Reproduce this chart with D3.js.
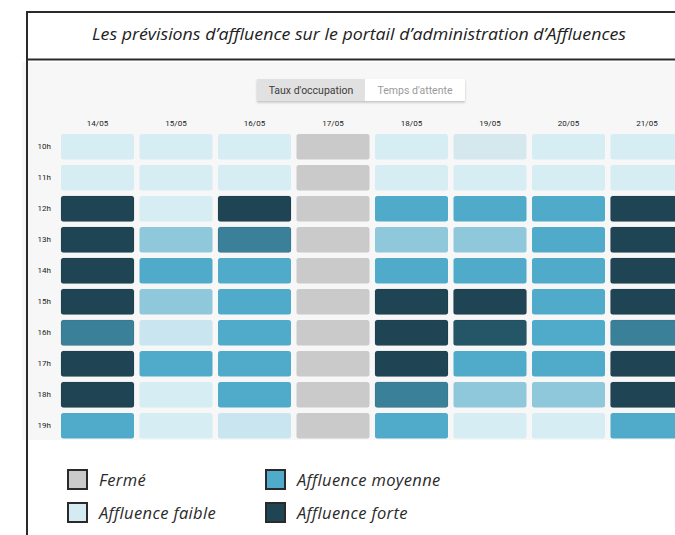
<!DOCTYPE html>
<html>
<head>
<meta charset="utf-8">
<script src="https://cdn.jsdelivr.net/npm/d3@7"></script>
<style>
  html, body { margin: 0; padding: 0; background: #ffffff; }
  svg { display: block; }
</style>
</head>
<body>
<svg id="chart" width="675" height="535"></svg>
<script>
// Forecast occupancy (%) per day and hour; null = closed
const days = ["14/05", "15/05", "16/05", "17/05", "18/05", "19/05", "20/05", "21/05"];
const hours = ["10h", "11h", "12h", "13h", "14h", "15h", "16h", "17h", "18h", "19h"];

const occ1405 = [15, 15, 90, 90, 90, 90, 70, 90, 90, 55];
const occ1505 = [15, 15, 15, 40, 55, 40, 25, 55, 15, 15];
const occ1605 = [15, 15, 90, 70, 55, 55, 55, 55, 55, 25];
const occ1705 = [null, null, null, null, null, null, null, null, null, null];
const occ1805 = [15, 15, 55, 40, 55, 90, 90, 90, 70, 55];
const occ1905 = [10, 15, 55, 40, 55, 90, 80, 55, 40, 15];
const occ2005 = [15, 15, 55, 55, 55, 55, 55, 55, 40, 15];
const occ2105 = [15, 15, 90, 90, 90, 90, 70, 90, 90, 55];
const occupancy = [occ1405, occ1505, occ1605, occ1705, occ1805, occ1905, occ2005, occ2105];

const legendLabels = ["Fermé", "Affluence faible", "Affluence moyenne", "Affluence forte"];
const legendColors = ["#cacaca", "#d4ebf2", "#4fabc9", "#1f4454"];

const title = "Les prévisions d’affluence sur le portail d’administration d’Affluences";
const tabs = ["Taux d'occupation", "Temps d'attente"];

const CLOSED = "#cacaca";
const color = d3.scaleThreshold()
  .domain([12, 20, 30, 48, 65, 75, 85])
  .range(["#d5e8ee", "#d6edf3", "#c9e5ef", "#8fc7db", "#4fabc9", "#3a8099", "#245667", "#1f4454"]);

const svg = d3.select("#chart");

// Panel background
svg.append("rect").attr("x", 22).attr("y", 62).attr("width", 660).attr("height", 378).attr("fill", "#f7f7f7");

// Frame lines
const frame = svg.append("g").attr("stroke", "#2a2a2a").attr("stroke-width", 2).attr("fill", "none");
frame.append("line").attr("x1", 27).attr("y1", 12).attr("x2", 680).attr("y2", 12);
frame.append("line").attr("x1", 27).attr("y1", 59.5).attr("x2", 680).attr("y2", 59.5);
frame.append("line").attr("x1", 27).attr("y1", 11).attr("x2", 27).attr("y2", 540);

// Title
svg.append("text")
  .attr("x", 359).attr("y", 40)
  .attr("text-anchor", "middle")
  .attr("font-family", "'Open Sans', sans-serif")
  .attr("font-style", "italic")
  .attr("font-size", 15.5)
  .attr("fill", "#222")
  .attr("textLength", 534)
  .attr("lengthAdjust", "spacingAndGlyphs")
  .text(title);

// Toggle tabs
const defs = svg.append("defs");
const shadow = defs.append("filter").attr("id", "tabShadow").attr("x", "-10%").attr("y", "-30%").attr("width", "120%").attr("height", "170%");
shadow.append("feDropShadow").attr("dx", 0).attr("dy", 1.5).attr("stdDeviation", 1.2).attr("flood-color", "#000").attr("flood-opacity", 0.22);

const tabX = d3.scaleOrdinal().domain(tabs).range([257, 365]);
const tabW = d3.scaleOrdinal().domain(tabs).range([108, 100]);
const tabG = svg.append("g").attr("filter", "url(#tabShadow)");
tabG.selectAll("rect").data(tabs).join("rect")
  .attr("x", d => tabX(d)).attr("y", 79)
  .attr("width", d => tabW(d)).attr("height", 22)
  .attr("fill", (d, i) => i === 0 ? "#e1e1e1" : "#ffffff");
svg.selectAll("text.tab").data(tabs).join("text")
  .attr("class", "tab")
  .attr("x", d => tabX(d) + tabW(d) / 2).attr("y", 93.5)
  .attr("text-anchor", "middle")
  .attr("font-family", "Roboto, sans-serif")
  .attr("font-size", 10.5)
  .attr("fill", (d, i) => i === 0 ? "#3c3c3c" : "#9a9a9a")
  .text(d => d);

// Heatmap scales
const x = d3.scaleBand().domain(days).range([58.25, 686.25]).paddingInner(0.07).paddingOuter(0.035);
const y = d3.scaleBand().domain(hours).range([131.25, 441.25]).paddingInner(0.177).paddingOuter(0.0885);

// Axes
const xAxis = svg.append("g").attr("transform", "translate(0,126)")
  .call(d3.axisTop(x).tickSize(0).tickPadding(0));
const yAxis = svg.append("g").attr("transform", "translate(51,0)")
  .call(d3.axisLeft(y).tickSize(0).tickPadding(0));
[xAxis, yAxis].forEach(a => {
  a.select(".domain").remove();
  a.selectAll("text").attr("font-family", "Roboto, sans-serif").attr("font-size", 8).attr("fill", "#222");
});

// Cells
const cells = [];
days.forEach((d, i) => hours.forEach((h, j) => cells.push({ day: d, hour: h, value: occupancy[i][j] })));

svg.append("g").selectAll("rect").data(cells).join("rect")
  .attr("x", d => x(d.day))
  .attr("y", d => y(d.hour))
  .attr("width", x.bandwidth())
  .attr("height", y.bandwidth())
  .attr("rx", 2.5)
  .attr("fill", d => d.value === null ? CLOSED : color(d.value))
  .attr("stroke", d => d.value !== null && d.value >= 65 ? "rgba(0,0,0,0.12)" : "none")
  .attr("stroke-width", 0.8);

// Legend
const legendPos = [[68, 470], [68, 503], [266, 470], [266, 503]];
const legend = svg.append("g").selectAll("g").data(legendLabels).join("g")
  .attr("transform", (d, i) => `translate(${legendPos[i][0]},${legendPos[i][1]})`);
legend.append("rect")
  .attr("x", 0).attr("y", 0).attr("width", 19).attr("height", 19)
  .attr("fill", (d, i) => legendColors[i])
  .attr("stroke", "#2a2a2a").attr("stroke-width", 2);
legend.append("text")
  .attr("x", 31).attr("y", 15.5)
  .attr("font-family", "'Open Sans', sans-serif")
  .attr("font-style", "italic")
  .attr("font-size", 16.5)
  .attr("letter-spacing", 0.35)
  .attr("fill", "#2a2a2a")
  .text(d => d);
</script>
</body>
</html>
